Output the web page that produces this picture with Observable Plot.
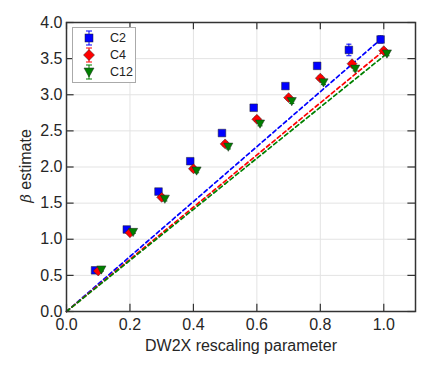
<!DOCTYPE html>
<html><head><meta charset="utf-8">
<script src="https://cdn.jsdelivr.net/npm/d3@7"></script>
<script src="https://cdn.jsdelivr.net/npm/@observablehq/plot@0.6"></script>
<style>
body{margin:0;background:#fff;font-family:"Liberation Sans",Arial,sans-serif;}
#wrap{position:relative;width:429px;height:368px;}
#ylab{position:absolute;left:26px;top:166px;transform:translate(-50%,-50%) rotate(-90deg);font-size:16px;color:#262626;white-space:nowrap;}
#ylab i{font-family:"DejaVu Serif",serif;font-size:15px;}
#legend{position:absolute;left:72px;top:27px;width:62px;height:54px;border:1px solid #aaa;background:#fff;}
.item{position:absolute;left:0;height:16px;width:62px;font-size:12.5px;color:#222;}
.item svg{position:absolute;left:8px;top:0;}
.item span{position:absolute;left:37px;top:0;line-height:16px;}
</style></head>
<body><div id="wrap"><div id="ylab"><i>β</i> estimate</div></div>
<script>
const xs = [0.1,0.2,0.3,0.4,0.5,0.6,0.7,0.8,0.9,1.0];
const seriesNames = ["C2","C4","C12"];
const colors = ["#0000ff","#ff0000","#008000"];
const offsets = [-0.01, 0, 0.01];
const c2 = [0.57,1.135,1.66,2.08,2.47,2.82,3.12,3.40,3.62,3.765];
const c4 = [0.56,1.09,1.58,1.975,2.32,2.66,2.96,3.23,3.43,3.61];
const c12 = [0.58,1.10,1.56,1.95,2.28,2.60,2.91,3.17,3.36,3.57];
const e2 = [0.02,0.03,0.03,0.03,0.03,0.03,0.03,0.04,0.08,0.05];
const e4 = [0.02,0.02,0.03,0.03,0.03,0.03,0.03,0.03,0.03,0.03];
const e12 = [0.02,0.02,0.03,0.03,0.03,0.03,0.03,0.03,0.03,0.03];
const xTicks = [0,0.2,0.4,0.6,0.8,1.0];
const yTicks = [0,0.5,1,1.5,2,2.5,3,3.5,4];

const vals = [c2,c4,c12], errs = [e2,e4,e12];
const rows = [];
seriesNames.forEach((s,i)=>xs.forEach((x,j)=>rows.push({s, i, x: x+offsets[i], y: vals[i][j], e: errs[i][j]})));
const fits = seriesNames.map((s,i)=>{const last = rows.filter(r=>r.i===i).at(-1); return [{s,x:0,y:0},{s,x:last.x,y:last.y}];}).flat();

const sq = {draw(ctx,size){const h=Math.sqrt(size)/2;ctx.rect(-h,-h,2*h,2*h);}};
const dia = {draw(ctx,size){const h=Math.sqrt(size)/2*1.3;ctx.moveTo(0,-h);ctx.lineTo(h,0);ctx.lineTo(0,h);ctx.lineTo(-h,0);ctx.closePath();}};
const tri = {draw(ctx,size){const h=Math.sqrt(size)/2*1.2;ctx.moveTo(-h,-h*0.8);ctx.lineTo(h,-h*0.8);ctx.lineTo(0,h);ctx.closePath();}};
const syms = [sq,dia,tri];

const cap = 0.008;
const chart = Plot.plot({
  width: 429, height: 368,
  marginLeft: 66, marginRight: 14, marginTop: 22, marginBottom: 57,
  style: {fontFamily: "Liberation Sans, Arial, sans-serif", fontSize: "16px", color: "#262626", background: "#fff"},
  x: {domain: [0, 1.1]},
  y: {domain: [0, 4.0]},
  color: {domain: seriesNames, range: colors},
  marks: [
    Plot.ruleX(xTicks.slice(1), {stroke: "#e3e3e3", strokeWidth: 1}),
    Plot.ruleY(yTicks.slice(1,-1), {stroke: "#e3e3e3", strokeWidth: 1}),
    Plot.ruleX(xTicks, {y1: 0, y2: 0.1, stroke: "#333", strokeWidth: 1.2}),
    Plot.ruleX(xTicks, {y1: 3.9, y2: 4.0, stroke: "#333", strokeWidth: 1.2}),
    Plot.ruleY(yTicks, {x1: 0, x2: 0.024, stroke: "#333", strokeWidth: 1.2}),
    Plot.ruleY(yTicks, {x1: 1.076, x2: 1.1, stroke: "#333", strokeWidth: 1.2}),
    Plot.line(fits, {x: "x", y: "y", z: "s", stroke: "s", strokeWidth: 1.7, strokeDasharray: "4,3"}),
    Plot.ruleX(rows, {x: "x", y1: d=>d.y-d.e, y2: d=>d.y+d.e, stroke: "s", strokeWidth: 1}),
    Plot.link(rows, {x1: d=>d.x-cap, x2: d=>d.x+cap, y1: d=>d.y+d.e, y2: d=>d.y+d.e, stroke: "s", strokeWidth: 1}),
    Plot.link(rows, {x1: d=>d.x-cap, x2: d=>d.x+cap, y1: d=>d.y-d.e, y2: d=>d.y-d.e, stroke: "s", strokeWidth: 1}),
    ...seriesNames.map((s,i)=>Plot.dot(rows.filter(r=>r.i===i), {x: "x", y: "y", fill: "s", stroke: "#222", strokeWidth: 0.5, symbol: syms[i], r: 4.3})),
    Plot.frame({stroke: "#333", strokeWidth: 1.5}),
    Plot.axisX({ticks: xTicks, tickFormat: d3.format(".1f"), tickSize: 0, tickPadding: 7, label: "DW2X rescaling parameter", labelAnchor: "center", labelArrow: "none", labelOffset: 39, fontSize: 16}),
    Plot.axisY({ticks: yTicks, tickFormat: d3.format(".1f"), tickSize: 0, tickPadding: 4, label: null, fontSize: 16})
  ]
});
const wrap = document.getElementById("wrap");
wrap.insertBefore(chart, wrap.firstChild);

// legend
const leg = document.createElement("div"); leg.id = "legend";
const legSyms = [
  '<rect x="4" y="4" width="8" height="8"/>',
  '<path d="M8 2.5 L13.5 8 L8 13.5 L2.5 8 Z"/>',
  '<path d="M3 4 L13 4 L8 13 Z"/>'
];
seriesNames.forEach((s,i)=>{
  const it = document.createElement("div"); it.className = "item"; it.style.top = (2 + i*17) + "px";
  it.innerHTML = `<svg width="16" height="16"><g stroke="${colors[i]}" stroke-width="1"><line x1="8" x2="8" y1="1" y2="15"/><line x1="5" x2="11" y1="1" y2="1"/><line x1="5" x2="11" y1="15" y2="15"/></g><g fill="${colors[i]}" stroke="#222" stroke-width="0.5">${legSyms[i]}</g></svg><span>${s}</span>`;
  leg.appendChild(it);
});
wrap.appendChild(leg);
</script></body></html>
